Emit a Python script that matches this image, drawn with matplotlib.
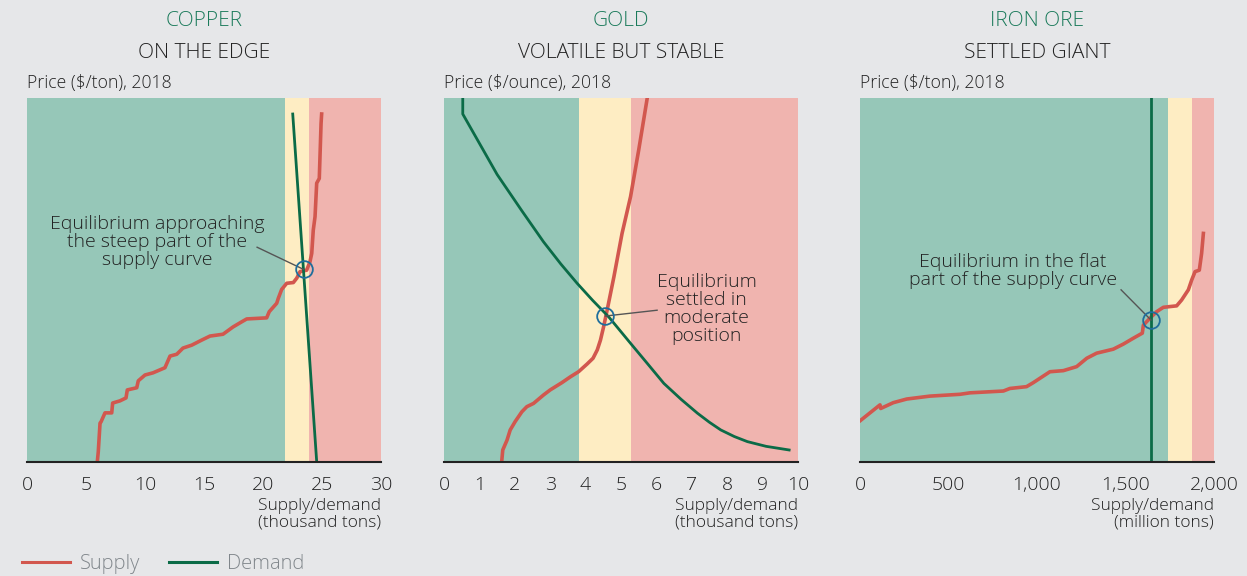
import matplotlib
matplotlib.use('Agg')
import matplotlib.pyplot as plt
from matplotlib.lines import Line2D

plt.rcParams['font.family'] = ['Open Sans', 'DejaVu Sans']
plt.rcParams['font.weight'] = 'light'

# ---- data (price index 0-100 on y) ----
copper_supply_x = [5.96, 6.04, 6.19, 6.27, 6.61, 7.18, 7.26, 7.88, 8.39, 8.50, 9.30, 9.43,
                   10.0, 10.68, 11.69, 12.12, 12.69, 13.22, 13.96, 14.81, 15.51, 16.61,
                   17.46, 18.19, 18.62, 20.31, 20.53, 21.16, 21.30, 21.58, 22.01, 22.57,
                   22.86, 23.14, 23.70, 23.98, 24.13, 24.26, 24.41, 24.55, 24.77, 24.92, 24.97]
copper_supply_y = [0.1, 2.8, 10.7, 11.0, 13.5, 13.5, 16.2, 16.8, 17.6, 19.8, 20.4, 22.3,
                   23.9, 24.5, 25.9, 29.1, 29.6, 31.3, 32.1, 33.5, 34.6, 35.1,
                   37.1, 38.5, 39.3, 39.6, 41.3, 43.6, 45.0, 47.4, 49.1, 49.3,
                   50.5, 52.3, 52.7, 55.0, 57.3, 63.7, 67.4, 76.6, 77.9, 93.0, 95.6]
copper_demand_x = [22.52, 24.55]
copper_demand_y = [95.6, 0.1]
copper_zones = [21.9, 23.9]
copper_eq = (23.45, 52.9)

gold_supply_x = [1.63, 1.66, 1.78, 1.87, 2.01, 2.20, 2.34, 2.53, 2.81, 3.00, 3.33, 3.57,
                 3.80, 4.04, 4.21, 4.33, 4.42, 4.51, 4.61, 4.80, 5.03, 5.27, 5.50, 5.74]
gold_supply_y = [0.1, 3.3, 6.0, 8.8, 11.1, 13.8, 15.2, 16.1, 18.4, 19.8, 21.8, 23.4,
                 24.8, 26.9, 28.5, 30.8, 33.5, 37.2, 41.8, 50.9, 62.8, 72.9, 85.7, 99.9]
gold_demand_x = [0.53, 0.53, 1.5, 2.2, 2.81, 3.3, 3.76, 4.2, 4.65, 5.27, 5.75, 6.21, 6.7,
                 7.16, 7.5, 7.82, 8.2, 8.57, 9.1, 9.75]
gold_demand_y = [100, 95.6, 79.0, 69.0, 60.5, 54.4, 49.1, 44.4, 39.9, 32.6, 27.0, 21.6, 17.2,
                 13.4, 10.9, 8.8, 7.0, 5.6, 4.3, 3.3]
gold_zones = [3.8, 5.27]
gold_eq = (4.56, 40.1)

iron_supply_x = [0, 113, 117, 188, 264, 395, 565, 621, 810, 847, 941, 979, 1073, 1149,
                 1224, 1281, 1337, 1431, 1488, 1544, 1595, 1601, 1638, 1676, 1714, 1789,
                 1817, 1855, 1874, 1893, 1917, 1930, 1940]
iron_supply_y = [11.3, 15.7, 14.7, 16.3, 17.3, 18.1, 18.6, 19.0, 19.5, 20.2, 20.7, 21.8,
                 24.8, 25.1, 26.2, 28.5, 29.9, 31.0, 32.4, 34.0, 35.4, 37.6, 39.5, 41.3,
                 42.5, 42.9, 44.5, 47.3, 50.0, 52.3, 52.7, 57.3, 62.8]
iron_demand_x = [1644, 1644]
iron_demand_y = [0, 100]
iron_zones = [1740, 1875]
iron_eq = (1644, 39.0)

BG = '#e6e7e9'
GREEN_Z = '#96c7b8'
YELLOW_Z = '#feedc3'
RED_Z = '#f0b4af'
SUPPLY_C = '#d2574e'
DEMAND_C = '#0b6b47'
TITLE_C = '#1a7a5a'
TEXT_C = '#222222'

panels = [
    dict(name='COPPER', sub='ON THE EDGE', ylab='Price ($/ton), 2018',
         sx=copper_supply_x, sy=copper_supply_y, dx=copper_demand_x, dy=copper_demand_y,
         zones=copper_zones, eq=copper_eq, xmax=30, ticks=[0, 5, 10, 15, 20, 25, 30],
         ticklabels=['0', '5', '10', '15', '20', '25', '30'],
         xlab='Supply/demand\n(thousand tons)',
         note='Equilibrium approaching\nthe steep part of the\nsupply curve',
         note_xy=(11.0, 60.4), leader=(19.5, 59.0), left=27),
    dict(name='GOLD', sub='VOLATILE BUT STABLE', ylab='Price ($/ounce), 2018',
         sx=gold_supply_x, sy=gold_supply_y, dx=gold_demand_x, dy=gold_demand_y,
         zones=gold_zones, eq=gold_eq, xmax=10, ticks=list(range(11)),
         ticklabels=[str(t) for t in range(11)],
         xlab='Supply/demand\n(thousand tons)',
         note='Equilibrium\nsettled in\nmoderate\nposition',
         note_xy=(7.42, 41.9), leader=(6.02, 41.7), left=444),
    dict(name='IRON ORE', sub='SETTLED GIANT', ylab='Price ($/ton), 2018',
         sx=iron_supply_x, sy=iron_supply_y, dx=iron_demand_x, dy=iron_demand_y,
         zones=iron_zones, eq=iron_eq, xmax=2000, ticks=[0, 500, 1000, 1500, 2000],
         ticklabels=['0', '500', '1,000', '1,500', '2,000'],
         xlab='Supply/demand\n(million tons)',
         note='Equilibrium in the flat\npart of the supply curve',
         note_xy=(863, 52.6), leader=(1475, 47.3), left=860),
]

W, H = 1247, 576
fig = plt.figure(figsize=(W / 100, H / 100), dpi=100, facecolor=BG)

for p in panels:
    ax = fig.add_axes([p['left'] / W, (H - 462) / H, 354 / W, 364 / H])
    ax.set_facecolor(BG)
    z0, z1 = p['zones']
    ax.axvspan(0, z0, color=GREEN_Z, lw=0, zorder=0)
    ax.axvspan(z0, z1, color=YELLOW_Z, lw=0, zorder=0)
    ax.axvspan(z1, p['xmax'], color=RED_Z, lw=0, zorder=0)

    ax.plot(p['sx'], p['sy'], color=SUPPLY_C, lw=2.6, solid_joinstyle='round', zorder=3)
    ax.plot(p['dx'], p['dy'], color=DEMAND_C, lw=2.0, zorder=3)

    ax.plot([p['eq'][0]], [p['eq'][1]], 'o', ms=12, mfc='none', mec='#1f6e9c',
            mew=1.3, zorder=5)
    ax.plot([p['leader'][0], p['eq'][0]], [p['leader'][1], p['eq'][1]],
            color='#555555', lw=1.0, zorder=4)
    ax.text(p['note_xy'][0], p['note_xy'][1], p['note'], ha='center', va='center',
            fontsize=14, color=TEXT_C, linespacing=1.0, zorder=6)

    ax.set_xlim(0, p['xmax'])
    ax.set_ylim(0, 100)
    ax.set_xticks(p['ticks'])
    ax.set_xticklabels(p['ticklabels'])
    ax.set_yticks([])
    ax.tick_params(axis='x', length=0, pad=10, labelsize=14, labelcolor=TEXT_C)
    for s in ['top', 'left', 'right']:
        ax.spines[s].set_visible(False)
    ax.spines['bottom'].set_color('#222222')
    ax.spines['bottom'].set_linewidth(1.5)
    ax.spines['bottom'].set_zorder(7)

    ax.text(1.0, -0.1, p['xlab'], transform=ax.transAxes, ha='right', va='top',
            fontsize=12.5, color=TEXT_C, linespacing=1.0, multialignment='right')
    ax.text(0.0, 1.04, p['ylab'], transform=ax.transAxes, ha='left', va='center',
            fontsize=12.7, color=TEXT_C)

    cx = (p['left'] + 177) / W
    fig.text(cx, 1 - 21 / H, p['name'], ha='center', va='center', fontsize=15,
             color=TITLE_C)
    fig.text(cx, 1 - 53 / H, p['sub'], ha='center', va='center', fontsize=15,
             color=TEXT_C)

handles = [Line2D([], [], color=SUPPLY_C, lw=2.2), Line2D([], [], color=DEMAND_C, lw=2.2)]
fig.legend(handles, ['Supply', 'Demand'], loc='center left',
           bbox_to_anchor=(22 / W, 1 - 564 / H), ncol=2, frameon=False,
           fontsize=14.5, labelcolor='#80868b', handlelength=2.4, handletextpad=0.5,
           columnspacing=1.4, borderpad=0, borderaxespad=0)

fig.savefig('out.png', dpi=100, facecolor=BG)
